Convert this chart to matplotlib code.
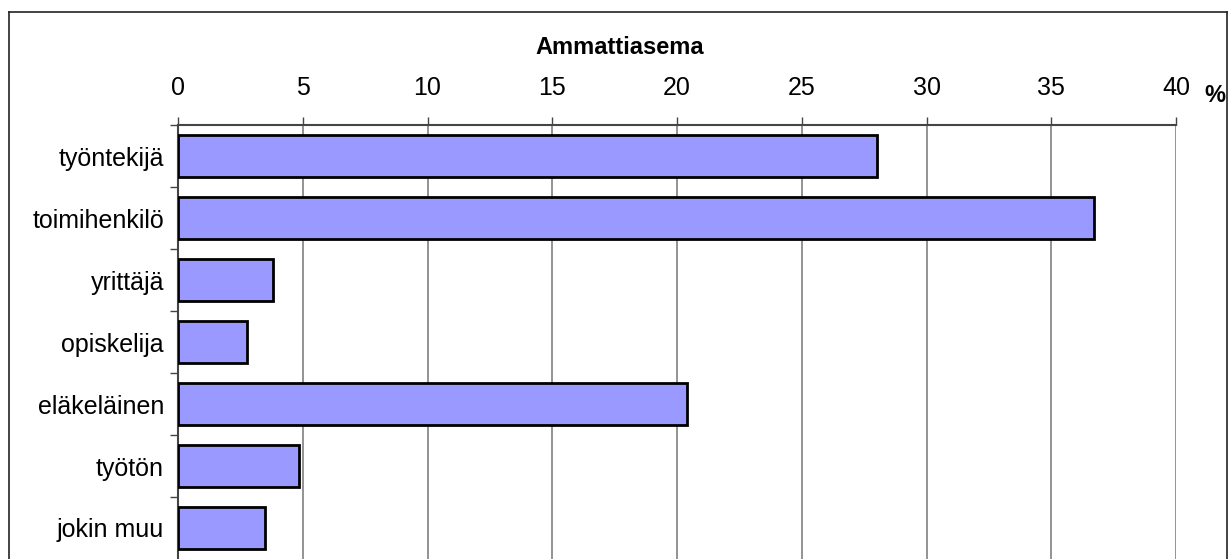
import matplotlib.pyplot as plt
from matplotlib.lines import Line2D

# Ammattiasema, % vastaajista
categories = ['työntekijä', 'toimihenkilö', 'yrittäjä', 'opiskelija',
              'eläkeläinen', 'työtön', 'jokin muu']
values = [28.0, 36.7, 3.8, 2.75, 20.4, 4.85, 3.5]
xticks = [0, 5, 10, 15, 20, 25, 30, 35, 40]

plt.rcParams['font.family'] = ['Liberation Sans', 'DejaVu Sans']

W, H = 1229, 559
fig = plt.figure(figsize=(W / 100, H / 100), dpi=100)
ax = fig.add_axes([178 / W, 0, (1176 - 178) / W, 1 - 125 / H])

pos = list(range(len(categories)))
ax.barh(pos, values, height=0.68, color='#9999ff', edgecolor='black',
        linewidth=2, zorder=3)

ax.set_xlim(0, 40)
ax.set_ylim(len(categories) - 0.5, -0.5)
ax.xaxis.tick_top()
ax.set_xticks(xticks)
ax.set_xticklabels([str(t) for t in xticks], fontsize=18)
ax.tick_params(axis='x', direction='out', length=6, width=1, color='#444444', pad=12)
ax.grid(axis='x', color='#808080', linewidth=1.2, zorder=0)

ax.set_yticks([p + 0.5 for p in pos[:-1]] + [-0.5], minor=True)
ax.set_yticks(pos)
ax.set_yticklabels(categories, fontsize=18)
ax.tick_params(axis='y', which='major', length=0, pad=10)
ax.tick_params(axis='y', which='minor', direction='out', length=6, width=1, color='#444444')

for s in ['right', 'bottom']:
    ax.spines[s].set_visible(False)
for s in ['top', 'left']:
    ax.spines[s].set_color('#444444')
    ax.spines[s].set_linewidth(1.5)

fig.text(620 / W, 1 - 47 / H, 'Ammattiasema', fontsize=17, fontweight='bold',
         ha='center', va='center')
fig.text(1215 / W, 1 - 95 / H, '%', fontsize=17, fontweight='bold',
         ha='center', va='center')

# kehys
x0, x1, y0 = 9 / W, 1227 / W, 1 - 12 / H
for xs, ys in [([x0, x1], [y0, y0]), ([x0, x0], [y0, 0]), ([x1, x1], [y0, 0])]:
    fig.add_artist(Line2D(xs, ys, color='#222222', linewidth=1.2,
                          transform=fig.transFigure))

fig.savefig('out.png', dpi=100)
